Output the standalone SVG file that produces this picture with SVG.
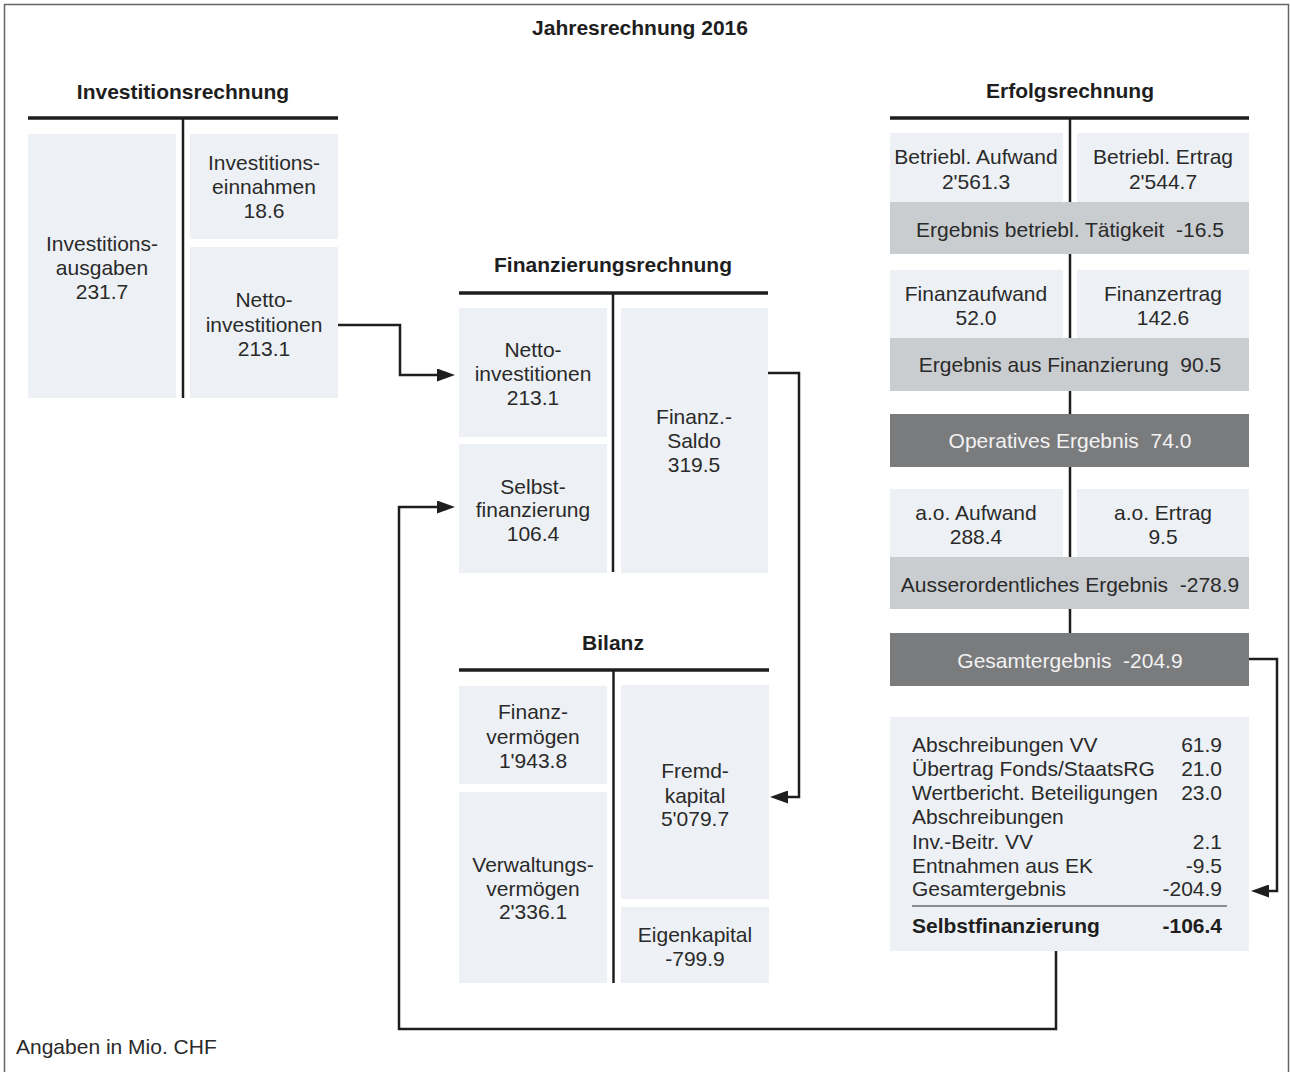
<svg xmlns="http://www.w3.org/2000/svg" width="1290" height="1072" viewBox="0 0 1290 1072">
<defs>
<style>
.t{font-family:"Liberation Sans",Arial,sans-serif;font-size:21px;fill:#2a2a2a;text-anchor:middle}
.l{text-anchor:start}
.r{text-anchor:end}
.b{font-weight:bold;fill:#1e1e1e}
.h{font-family:"Liberation Sans",Arial,sans-serif;font-size:21px;font-weight:bold;fill:#1e1e1e;text-anchor:middle}
.w{fill:#f2f2f2}
.bx{fill:#edf1f5}
.md{fill:#c9cdd0}
.dk{fill:#7a7b7d}
.bar{stroke:#1e1e1e;stroke-width:3.5;fill:none}
.v{stroke:#1e1e1e;stroke-width:2.5;fill:none}
.c{stroke:#1e1e1e;stroke-width:2.5;fill:none;marker-end:url(#ah)}
</style>
<marker id="ah" markerUnits="userSpaceOnUse" markerWidth="18" markerHeight="13" refX="8" refY="6.5" orient="auto">
<path d="M0,0 L18,6.5 L0,13 Z" fill="#1e1e1e"/>
</marker>
</defs>
<rect x="0" y="0" width="1290" height="1072" fill="#ffffff"/>
<path d="M4.5,1072 V4.5 H1288.5 V1072" fill="none" stroke="#666" stroke-width="1.5"/>
<text class="h" x="640" y="35">Jahresrechnung 2016</text>

<g id="investitionsrechnung">
<text class="h" x="183" y="99">Investitionsrechnung</text>
<rect class="bx" x="28" y="134" width="148" height="264"/>
<rect class="bx" x="190" y="134" width="148" height="105"/>
<rect class="bx" x="190" y="247" width="148" height="151"/>
<line class="bar" x1="28" y1="118" x2="338" y2="118"/>
<line class="v" x1="183" y1="118" x2="183" y2="398"/>
<text class="t" x="102" y="251">Investitions-</text>
<text class="t" x="102" y="275">ausgaben</text>
<text class="t" x="102" y="299">231.7</text>
<text class="t" x="264" y="170">Investitions-</text>
<text class="t" x="264" y="194">einnahmen</text>
<text class="t" x="264" y="218">18.6</text>
<text class="t" x="264" y="307">Netto-</text>
<text class="t" x="264" y="332">investitionen</text>
<text class="t" x="264" y="356">213.1</text>
</g>

<g id="finanzierungsrechnung">
<text class="h" x="613" y="272">Finanzierungsrechnung</text>
<rect class="bx" x="459" y="308" width="148" height="129"/>
<rect class="bx" x="459" y="444" width="148" height="129"/>
<rect class="bx" x="621" y="308" width="147" height="265"/>
<line class="bar" x1="459" y1="293" x2="768" y2="293"/>
<line class="v" x1="613" y1="293" x2="613" y2="572"/>
<text class="t" x="533" y="357">Netto-</text>
<text class="t" x="533" y="381">investitionen</text>
<text class="t" x="533" y="405">213.1</text>
<text class="t" x="533" y="494">Selbst-</text>
<text class="t" x="533" y="517">finanzierung</text>
<text class="t" x="533" y="541">106.4</text>
<text class="t" x="694" y="424">Finanz.-</text>
<text class="t" x="694" y="448">Saldo</text>
<text class="t" x="694" y="472">319.5</text>
</g>

<g id="bilanz">
<text class="h" x="613" y="650">Bilanz</text>
<rect class="bx" x="459" y="686" width="148" height="98"/>
<rect class="bx" x="459" y="792" width="148" height="191"/>
<rect class="bx" x="621" y="685" width="148" height="214"/>
<rect class="bx" x="621" y="907" width="148" height="76"/>
<line class="bar" x1="459" y1="670" x2="769" y2="670"/>
<line class="v" x1="613.5" y1="670" x2="613.5" y2="983"/>
<text class="t" x="533" y="719">Finanz-</text>
<text class="t" x="533" y="744">vermögen</text>
<text class="t" x="533" y="768">1'943.8</text>
<text class="t" x="533" y="872">Verwaltungs-</text>
<text class="t" x="533" y="896">vermögen</text>
<text class="t" x="533" y="919">2'336.1</text>
<text class="t" x="695" y="778">Fremd-</text>
<text class="t" x="695" y="803">kapital</text>
<text class="t" x="695" y="826">5'079.7</text>
<text class="t" x="695" y="942">Eigenkapital</text>
<text class="t" x="695" y="966">-799.9</text>
</g>

<g id="erfolgsrechnung">
<text class="h" x="1070" y="98">Erfolgsrechnung</text>
<line class="v" x1="1070" y1="118" x2="1070" y2="633"/>
<line class="bar" x1="890" y1="118" x2="1249" y2="118"/>
<rect class="bx" x="890" y="133" width="173" height="69"/>
<rect class="bx" x="1077" y="133" width="172" height="69"/>
<rect class="md" x="890" y="202" width="359" height="52"/>
<rect class="bx" x="890" y="270" width="173" height="68"/>
<rect class="bx" x="1077" y="270" width="172" height="68"/>
<rect class="md" x="890" y="338" width="359" height="53"/>
<rect class="dk" x="890" y="414" width="359" height="53"/>
<rect class="bx" x="890" y="489" width="173" height="68"/>
<rect class="bx" x="1077" y="489" width="172" height="68"/>
<rect class="md" x="890" y="557" width="359" height="52"/>
<rect class="dk" x="890" y="633" width="359" height="53"/>
<text class="t" x="976" y="164">Betriebl. Aufwand</text>
<text class="t" x="976" y="189">2'561.3</text>
<text class="t" x="1163" y="164">Betriebl. Ertrag</text>
<text class="t" x="1163" y="189">2'544.7</text>
<text class="t" x="1070" y="237" xml:space="preserve">Ergebnis betriebl. Tätigkeit  -16.5</text>
<text class="t" x="976" y="301">Finanzaufwand</text>
<text class="t" x="976" y="325">52.0</text>
<text class="t" x="1163" y="301">Finanzertrag</text>
<text class="t" x="1163" y="325">142.6</text>
<text class="t" x="1070" y="372" xml:space="preserve">Ergebnis aus Finanzierung  90.5</text>
<text class="t w" x="1070" y="448" xml:space="preserve">Operatives Ergebnis  74.0</text>
<text class="t" x="976" y="520">a.o. Aufwand</text>
<text class="t" x="976" y="544">288.4</text>
<text class="t" x="1163" y="520">a.o. Ertrag</text>
<text class="t" x="1163" y="544">9.5</text>
<text class="t" x="1070" y="592" xml:space="preserve">Ausserordentliches Ergebnis  -278.9</text>
<text class="t w" x="1070" y="668" xml:space="preserve">Gesamtergebnis  -204.9</text>
</g>

<g id="selbstfinanzierung">
<rect class="bx" x="890" y="717" width="359" height="234"/>
<text class="t l" x="912" y="752">Abschreibungen VV</text>
<text class="t r" x="1222" y="752">61.9</text>
<text class="t l" x="912" y="776">Übertrag Fonds/StaatsRG</text>
<text class="t r" x="1222" y="776">21.0</text>
<text class="t l" x="912" y="800">Wertbericht. Beteiligungen</text>
<text class="t r" x="1222" y="800">23.0</text>
<text class="t l" x="912" y="824">Abschreibungen</text>
<text class="t l" x="912" y="849">Inv.-Beitr. VV</text>
<text class="t r" x="1222" y="849">2.1</text>
<text class="t l" x="912" y="873">Entnahmen aus EK</text>
<text class="t r" x="1222" y="873">-9.5</text>
<text class="t l" x="912" y="896">Gesamtergebnis</text>
<text class="t r" x="1222" y="896">-204.9</text>
<line x1="912" y1="906" x2="1227" y2="906" stroke="#6a6a6a" stroke-width="1.5"/>
<text class="t l b" x="912" y="933">Selbstfinanzierung</text>
<text class="t r b" x="1222" y="933">-106.4</text>
</g>

<g id="connectors">
<path class="c" d="M338,325 H400 V375 H445"/>
<path class="c" d="M768,373 H799 V797 H780"/>
<path class="c" d="M1249,659 H1277 V891 H1261"/>
<path class="c" d="M1056,951 V1029 H399 V507 H445"/>
</g>

<text class="t l" x="16" y="1054">Angaben in Mio. CHF</text>
</svg>
